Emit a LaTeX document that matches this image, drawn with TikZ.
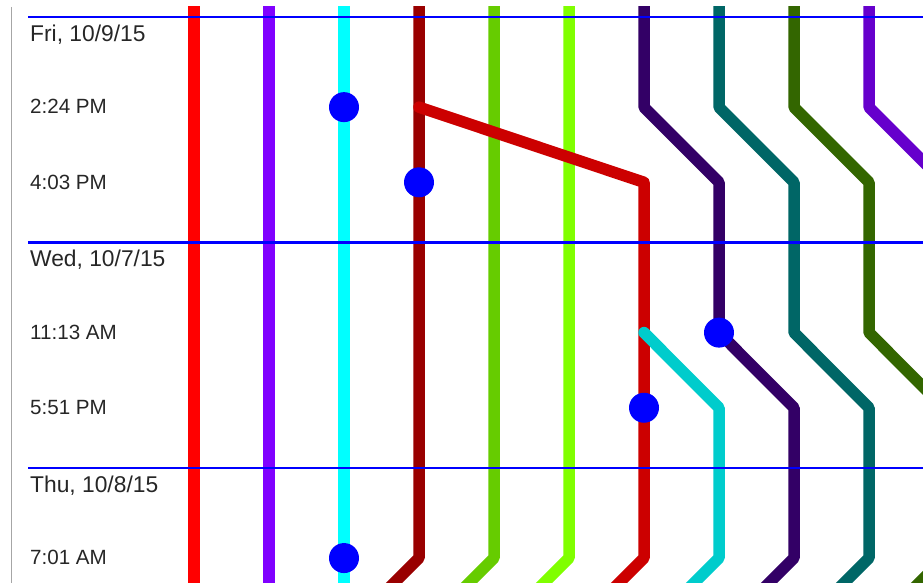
\documentclass[tikz,border=0pt]{standalone}
\usepackage{fontspec}
\setmainfont{Liberation Sans}
\definecolor{brRed}{HTML}{FF0000}
\definecolor{brPurple}{HTML}{8000FF}
\definecolor{brCyan}{HTML}{00FFFF}
\definecolor{brDarkRed}{HTML}{990000}
\definecolor{brGreen}{HTML}{66CC00}
\definecolor{brLime}{HTML}{80FF00}
\definecolor{brCrimson}{HTML}{CC0000}
\definecolor{brNavy}{HTML}{330066}
\definecolor{brTeal}{HTML}{006666}
\definecolor{brOlive}{HTML}{336600}
\definecolor{brViolet}{HTML}{6600CC}
\definecolor{brAqua}{HTML}{00CCCC}
\begin{document}
\begin{tikzpicture}[x=75pt, y=-75.15pt]
    \tikzset{
      branch/.style={line width=11.5pt, line cap=round, line join=round},
      dayline/.style={draw=blue, line width=2.2pt},
      commit/.style={circle, fill=blue, inner sep=0pt, minimum size=30pt},
      datelbl/.style={anchor=base west, inner sep=0pt, text=black!85,
        font=\fontsize{22.8}{27}\selectfont},
      timelbl/.style={anchor=base west, inner sep=0pt, text=black!85,
        font=\fontsize{20.6}{24}\selectfont},
    }
    \useasboundingbox (-2.58667,-0.42582) rectangle (9.72,7.332);
    % ===== left rule =====
    \draw[black!35, line width=1pt] (-2.4267,-0.3327) -- (-2.4267,7.332);
    % ===== branches =====
    \begin{scope}
      \clip (-2.6,-0.3327) rectangle (9.72,7.332);
      \foreach \c/\col in {0/brRed,1/brPurple,2/brCyan}{
        \draw[branch, \col] (\c,-0.6) -- (\c,8);
      }
      \foreach \c/\col in {3/brDarkRed,4/brGreen,5/brLime}{
        \draw[branch, \col] (\c,-0.6) -- (\c,7) -- (\c-1,8);
      }
      \foreach \c/\col in {6/brNavy,7/brTeal,8/brOlive,9/brViolet}{
        \draw[branch, \col] (\c,-0.6) -- (\c,1) -- (\c+1,2) -- (\c+1,4)
          -- (\c+2,5) -- (\c+2,7) -- (\c+1,8);
      }
      \draw[branch, brCrimson] (3,1) -- (6,2) -- (6,7) -- (5,8);
      \draw[branch, brAqua] (6,4) -- (7,5) -- (7,7) -- (6,8);
    \end{scope}
    % ===== day separators =====
    \foreach \r in {0,3,6}{
      \draw[dayline] (-2.2133,\r-0.2) -- (9.72,\r-0.2);
    }
    % ===== row labels =====
    \foreach \r/\txt in {0/{Fri, 10/9/15},3/{Wed, 10/7/15},6/{Thu, 10/8/15}}{
      \node[datelbl] (day\r) at (-2.1867,\r+0.125) {\txt};
    }
    \foreach \r/\txt in {1/2:24 PM,2/4:03 PM,4/11:13 AM,5/5:51 PM,7/7:01 AM}{
      \node[timelbl] (time\r) at (-2.1867,\r+0.09) {\txt};
    }
    % ===== commits =====
    \node[commit] (c1) at (2,1) {};
    \node[commit] (c2) at (3,2) {};
    \node[commit] (c3) at (7,4) {};
    \node[commit] (c4) at (6,5) {};
    \node[commit] (c5) at (2,7) {};
\end{tikzpicture}
\end{document}
